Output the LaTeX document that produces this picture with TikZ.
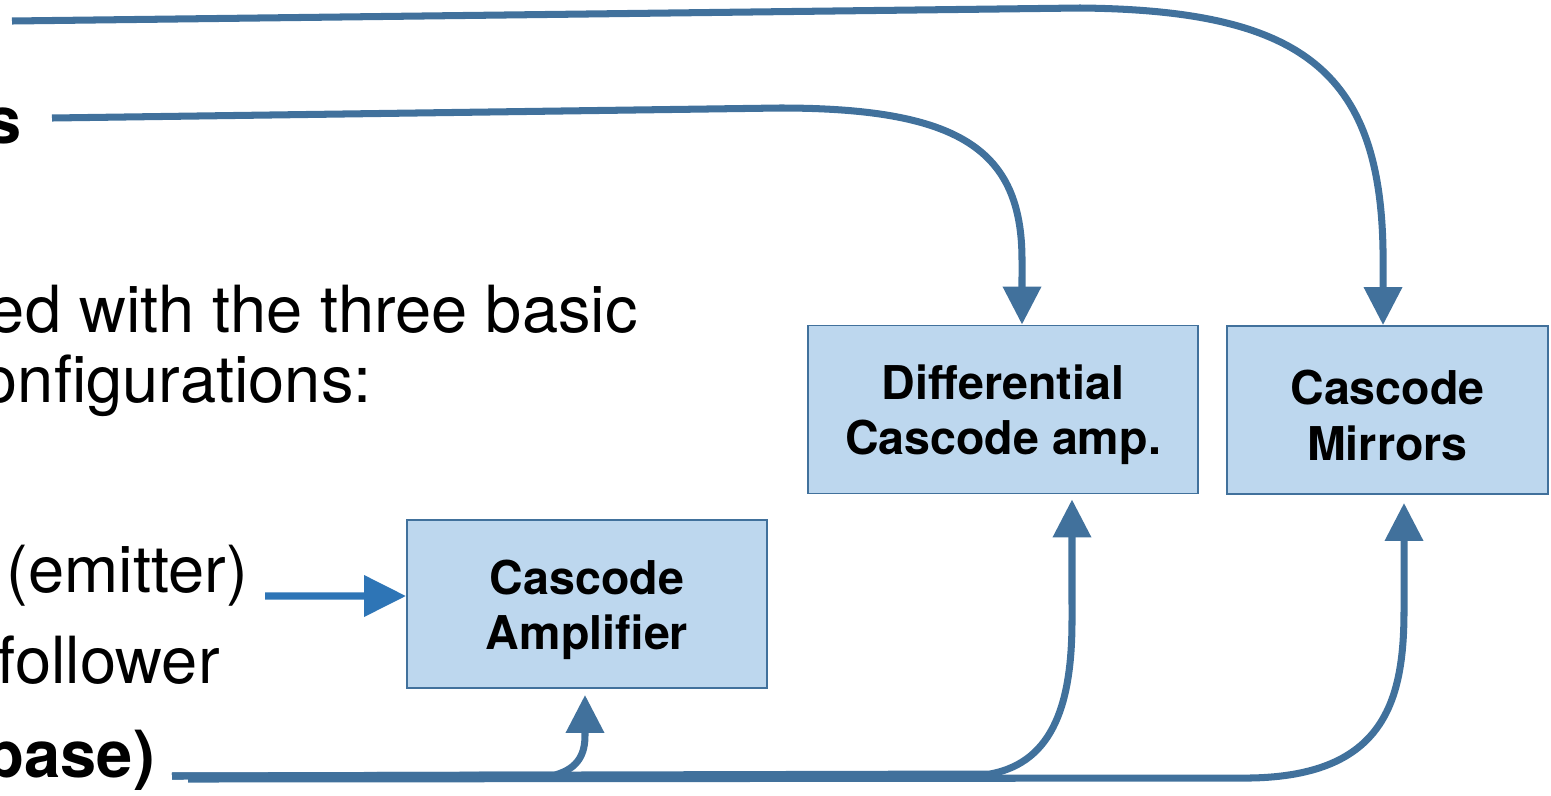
\documentclass[tikz,border=0pt]{standalone}
\usepackage{fontspec}
\setmainfont{TeX Gyre Heros}
\usetikzlibrary{arrows.meta}
\definecolor{linkblue}{RGB}{65,113,156}
\definecolor{feedblue}{RGB}{46,117,182}
\definecolor{boxfill}{RGB}{189,215,238}
\newcommand\topgap{\rule{0pt}{26pt}}

\begin{document}
\begin{tikzpicture}[x=0.02cm,y=-0.02cm,
  every node/.style={inner sep=0pt},
  slide/.style={anchor=base east,font=\fontsize{37}{40}\selectfont},
  slidebold/.style={anchor=base east,font=\fontsize{37}{40}\selectfont\bfseries},
  block/.style={draw=linkblue,line width=1.1pt,fill=boxfill,minimum height=3.36cm,
                align=center,font=\fontsize{26.5}{31.5}\selectfont\bfseries},
  link/.style={draw=linkblue,line width=4pt,-{Triangle[length=0.76cm,width=0.74cm]}}]
\useasboundingbox (0,0) rectangle (1551,795);
\clip (0,0) rectangle (1551,795);

% text cut by the left edge
\node[slidebold] (sTxt)     at (22,143)  {s};
\node[slide]     (basicTxt) at (638,332) {ed with the three basic};
\node[slide]     (confTxt)  at (372,402) {onfigurations:};
\node[slide]     (emitTxt)  at (248,592) {(emitter)};
\node[slide]     (follTxt)  at (220,683) {follower};
\node[slidebold] (baseTxt)  at (155,777) {base)};

% blocks
\node[block,minimum width=7.2cm]  (casAmp)  at (587,604)    {\topgap Cascode\\Amplifier};
\node[block,minimum width=7.8cm]  (diffAmp) at (1003,409.5) {\topgap Differential\\Cascode amp.};
\node[block,minimum width=6.42cm] (casMir)  at (1387.5,410) {\topgap Cascode\\Mirrors};

% loose ends
\coordinate (topIn)    at (12,21);
\coordinate (sOut)     at (52,118);
\coordinate (emitOut)  at (265,596);
\coordinate (baseOut)  at (172,776);
\coordinate (baseOutB) at (188,779);

\draw[link] (topIn) -- (1080,8) .. controls (1300,10) and (1380,70) .. (1383,250)
  -- ([xshift=-0.09cm]casMir.north);
\draw[link] (sOut) -- (780,108) .. controls (960,108) and (1022,150) .. (1022,260)
  -- ([xshift=0.38cm]diffAmp.north);
\draw[link,draw=feedblue,-{Triangle[length=0.84cm,width=0.8cm]}]
  (emitOut) -- ([yshift=0.16cm]casAmp.west);
\draw[link] (baseOut) -- (555,775) .. controls (580,768) and (585,752) .. (585,735)
  -- ([xshift=-0.04cm,yshift=-0.12cm]casAmp.south);
\draw[link] (baseOut) -- (990,774) .. controls (1055,762) and (1072,700) .. (1072,620)
  -- ([xshift=1.38cm,yshift=-0.1cm]diffAmp.south);
\draw[link] (baseOutB) -- (1250,778) .. controls (1385,776) and (1404,700) .. (1404,610)
  -- ([xshift=0.33cm,yshift=-0.16cm]casMir.south);
\end{tikzpicture}
\end{document}
